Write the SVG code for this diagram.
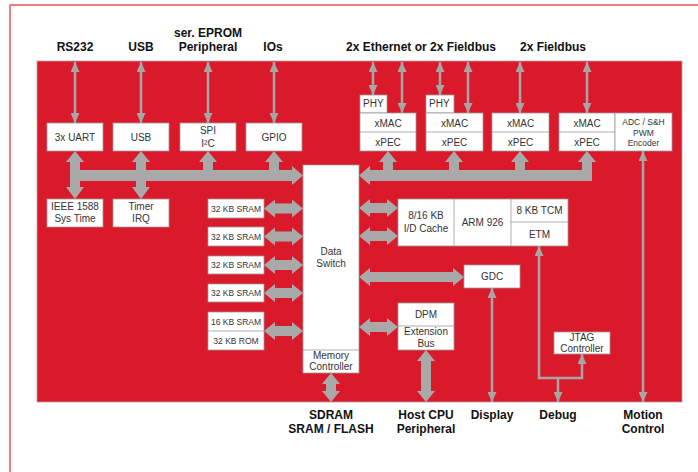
<svg xmlns="http://www.w3.org/2000/svg" width="698" height="472" viewBox="0 0 698 472">
<style>
.box{fill:#fff;stroke:#9a9a9a;stroke-width:0.8}
.div{stroke:#9a9a9a;stroke-width:0.8}
.t{font-family:"Liberation Sans",Arial,sans-serif;font-size:10px;fill:#333;text-anchor:middle}
.s{font-size:8.5px}
.xs{font-size:8.5px}
.lbl{font-family:"Liberation Sans",Arial,sans-serif;font-size:12px;font-weight:bold;fill:#111;text-anchor:middle}
.thin{stroke:#a6a6a6;stroke-width:2.5;fill:none;marker-start:url(#ah);marker-end:url(#ah)}
.thin1{stroke:#a6a6a6;stroke-width:2.5;fill:none;marker-end:url(#ah)}
.thick{fill:#a9a9a9}
</style>
<defs>
<marker id="ah" markerUnits="userSpaceOnUse" markerWidth="10" markerHeight="9" refX="10" refY="4.5" orient="auto-start-reverse">
<path d="M0,0 L10,4.5 L0,9 z" fill="#a6a6a6"/>
</marker>
</defs>
<rect x="10" y="5" width="700" height="480" fill="#fff" stroke="#f0505a" stroke-width="1.5"/>
<rect x="37" y="61" width="645" height="341" fill="#da1a2a" stroke="#b9a0a3" stroke-width="0.8"/>

<g id="connectors">
<line class="thin" x1="75" y1="62" x2="75" y2="123"/>
<line class="thin" x1="141" y1="62" x2="141" y2="123"/>
<line class="thin" x1="208" y1="62" x2="208" y2="123"/>
<line class="thin" x1="274" y1="62" x2="274" y2="123"/>
<line class="thin" x1="373" y1="62" x2="373" y2="95"/>
<line class="thin" x1="402" y1="62" x2="402" y2="113"/>
<line class="thin" x1="440" y1="62" x2="440" y2="95"/>
<line class="thin" x1="468" y1="62" x2="468" y2="113"/>
<line class="thin" x1="520" y1="62" x2="520" y2="113"/>
<line class="thin" x1="587" y1="62" x2="587" y2="113"/>
<line class="thin" x1="492" y1="288" x2="492" y2="402"/>
<line class="thin" x1="643" y1="151" x2="643" y2="402"/>
<polyline class="thin" points="539,246 539,378 582,378 582,354"/>
<line class="thin1" x1="558" y1="378" x2="558" y2="402"/>

<path class="thick" d="M70,181 V187 H66 L75,199 L84,187 H80 V181 H136 V187 H132 L141,199 L150,187 H146 V181 H292 V185 L303,175.5 L292,166 V170 H279 V162 H283 L274,151 L265,162 H269 V170 H213 V162 H217 L208,151 L199,162 H203 V170 H146 V162 H150 L141,151 L132,162 H136 V170 H80 V162 H84 L75,151 L66,162 H70 Z"/>
<path class="thick" d="M359,175.5 L370,166 V170 H383 V162 H379 L388,151 L397,162 H393 V170 H449 V162 H445 L454,151 L463,162 H459 V170 H515 V162 H511 L520,151 L529,162 H525 V170 H582 V162 H578 L587,151 L596,162 H592 V181 H370 V185 Z"/>
<path class="thick" d="M264,208.5 L275,199.5 V203.5 H292 V199.5 L303,208.5 L292,217.5 V213.5 H275 V217.5 Z"/>
<path class="thick" d="M264,236.5 L275,227.5 V231.5 H292 V227.5 L303,236.5 L292,245.5 V241.5 H275 V245.5 Z"/>
<path class="thick" d="M264,265 L275,256 V260 H292 V256 L303,265 L292,274 V270 H275 V274 Z"/>
<path class="thick" d="M264,293 L275,284 V288 H292 V284 L303,293 L292,302 V298 H275 V302 Z"/>
<path class="thick" d="M264,331 L275,322 V326 H292 V322 L303,331 L292,340 V336 H275 V340 Z"/>
<path class="thick" d="M359,208 L370,199 V203 H387 V199 L398,208 L387,217 V213 H370 V217 Z"/>
<path class="thick" d="M359,236 L370,227 V231 H387 V227 L398,236 L387,245 V241 H370 V245 Z"/>
<path class="thick" d="M359,277 L370,268 V272 H453 V268 L464,277 L453,286 V282 H370 V286 Z"/>
<path class="thick" d="M359,327 L370,318 V322 H387 V318 L398,327 L387,336 V332 H370 V336 Z"/>
<path class="thick" d="M331,373 L340,384 H336 V391 H340 L331,402 L322,391 H326 V384 H322 Z"/>
<path class="thick" d="M426,350 L435,361 H431 V391 H435 L426,402 L417,391 H421 V361 H417 Z"/>
</g>

<g id="uart"><rect class="box" x="47" y="123" width="56" height="28"/><text class="t" x="75" y="140.5">3x UART</text></g>
<g id="usb"><rect class="box" x="113" y="123" width="56" height="28"/><text class="t" x="141" y="140.5">USB</text></g>
<g id="spi"><rect class="box" x="180" y="123" width="56" height="28"/><text class="t" x="208" y="134">SPI</text><text class="t" x="208" y="147">I²C</text></g>
<g id="gpio"><rect class="box" x="246" y="123" width="56" height="28"/><text class="t" x="274" y="140.5">GPIO</text></g>

<g id="phy1"><rect class="box" x="360" y="95" width="27" height="18"/><text class="t" x="363" y="107" style="text-anchor:start">PHY</text></g>
<g id="xpec1"><rect class="box" x="360" y="113" width="56" height="38"/><line class="div" x1="360" y1="132" x2="416" y2="132"/><text class="t" x="388" y="127">xMAC</text><text class="t" x="388" y="146">xPEC</text></g>
<g id="phy2"><rect class="box" x="426" y="95" width="28" height="18"/><text class="t" x="429" y="107" style="text-anchor:start">PHY</text></g>
<g id="xpec2"><rect class="box" x="426" y="113" width="57" height="38"/><line class="div" x1="426" y1="132" x2="483" y2="132"/><text class="t" x="454.5" y="127">xMAC</text><text class="t" x="454.5" y="146">xPEC</text></g>
<g id="xpec3"><rect class="box" x="492" y="113" width="57" height="38"/><line class="div" x1="492" y1="132" x2="549" y2="132"/><text class="t" x="520.5" y="127">xMAC</text><text class="t" x="520.5" y="146">xPEC</text></g>
<g id="xpec4"><rect class="box" x="559" y="113" width="56" height="38"/><line class="div" x1="559" y1="132" x2="615" y2="132"/><text class="t" x="587" y="127">xMAC</text><text class="t" x="587" y="146">xPEC</text></g>
<g id="adc"><rect class="box" x="615" y="113" width="57" height="38"/><text class="t xs" x="643.5" y="124.5">ADC / S&amp;H</text><text class="t xs" x="643.5" y="135.5">PWM</text><text class="t xs" x="643.5" y="146">Encoder</text></g>

<g id="ieee"><rect class="box" x="47" y="199" width="56" height="28"/><text class="t" x="75" y="210">IEEE 1588</text><text class="t" x="75" y="222">Sys Time</text></g>
<g id="timer"><rect class="box" x="113" y="199" width="56" height="28"/><text class="t" x="141" y="210">Timer</text><text class="t" x="141" y="222">IRQ</text></g>

<g id="sram1"><rect class="box" x="208" y="199" width="56" height="19"/><text class="t s" x="236" y="211.5">32 KB SRAM</text></g>
<g id="sram2"><rect class="box" x="208" y="227" width="56" height="19"/><text class="t s" x="236" y="239.5">32 KB SRAM</text></g>
<g id="sram3"><rect class="box" x="208" y="256" width="56" height="18"/><text class="t s" x="236" y="268">32 KB SRAM</text></g>
<g id="sram4"><rect class="box" x="208" y="284" width="56" height="18"/><text class="t s" x="236" y="296">32 KB SRAM</text></g>
<g id="sramrom"><rect class="box" x="208" y="312" width="56" height="38"/><line class="div" x1="208" y1="331" x2="264" y2="331"/><text class="t s" x="236" y="324.5">16 KB SRAM</text><text class="t s" x="236" y="343.5">32 KB ROM</text></g>

<g id="switch"><rect class="box" x="303" y="165" width="56" height="208"/><line class="div" x1="303" y1="350" x2="359" y2="350"/><text class="t" x="331" y="255">Data</text><text class="t" x="331" y="267">Switch</text><text class="t" x="331" y="358.5">Memory</text><text class="t" x="331" y="370">Controller</text></g>

<g id="arm"><rect class="box" x="398" y="199" width="170" height="47"/><line class="div" x1="454" y1="199" x2="454" y2="246"/><line class="div" x1="511" y1="199" x2="511" y2="246"/><line class="div" x1="511" y1="222" x2="568" y2="222"/><text class="t" x="426" y="219">8/16 KB</text><text class="t" x="426" y="231.5">I/D Cache</text><text class="t" x="482.5" y="225.5">ARM 926</text><text class="t" x="539.5" y="214">8 KB TCM</text><text class="t" x="539.5" y="237.5">ETM</text></g>

<g id="gdc"><rect class="box" x="464" y="265" width="56" height="23"/><text class="t" x="492" y="280">GDC</text></g>
<g id="dpm"><rect class="box" x="398" y="303" width="56" height="47"/><line class="div" x1="398" y1="326" x2="454" y2="326"/><text class="t" x="426" y="318">DPM</text><text class="t" x="426" y="335">Extension</text><text class="t" x="426" y="346.5">Bus</text></g>
<g id="jtag"><rect class="box" x="554" y="332" width="56" height="22"/><text class="t" x="582" y="340.5">JTAG</text><text class="t" x="582" y="352">Controller</text></g>

<g id="labels">
<text class="lbl" x="75" y="51">RS232</text>
<text class="lbl" x="141" y="51">USB</text>
<text class="lbl" x="208" y="37">ser. EPROM</text>
<text class="lbl" x="208" y="51">Peripheral</text>
<text class="lbl" x="273" y="51">IOs</text>
<text class="lbl" x="421" y="51">2x Ethernet or 2x Fieldbus</text>
<text class="lbl" x="553" y="51">2x Fieldbus</text>
<text class="lbl" x="331" y="419">SDRAM</text>
<text class="lbl" x="331" y="433">SRAM / FLASH</text>
<text class="lbl" x="426" y="419">Host CPU</text>
<text class="lbl" x="426" y="433">Peripheral</text>
<text class="lbl" x="492" y="419">Display</text>
<text class="lbl" x="558" y="419">Debug</text>
<text class="lbl" x="643" y="419">Motion</text>
<text class="lbl" x="643" y="433">Control</text>
</g>
</svg>
